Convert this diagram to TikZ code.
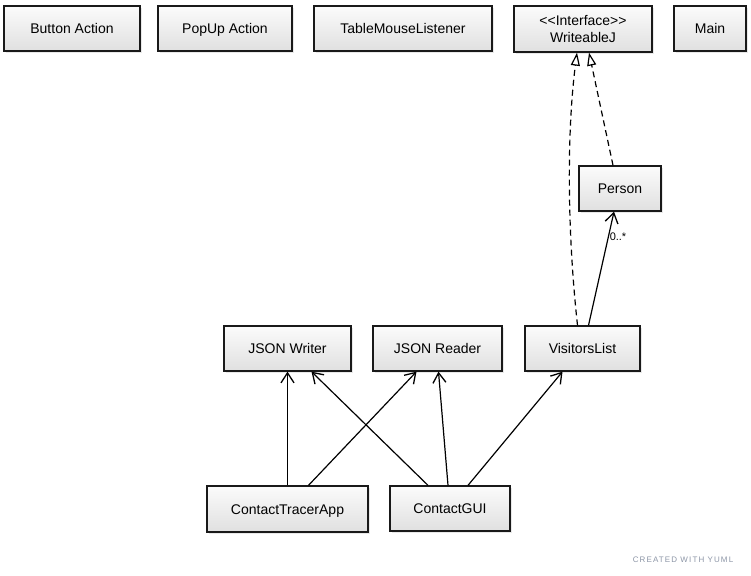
\documentclass[tikz,border=0pt]{standalone}
\usepackage{fontspec}
\setmainfont{Liberation Sans}
\newfontfamily\wmfont{Liberation Sans}[LetterSpace=14]
\usetikzlibrary{arrows.meta,calc,shadows}
\definecolor{boxtop}{HTML}{FBFBFB}
\definecolor{boxbot}{HTML}{E0E0E0}
\definecolor{wmgray}{HTML}{8C95A6}
\tikzset{
  cls/.style={draw=black!90, line width=1.3pt, rectangle, top color=boxtop, bottom color=boxbot,
    drop shadow={opacity=0.18, shadow xshift=2pt, shadow yshift=-2pt},
    font=\fontsize{14}{17}\selectfont, align=center, inner sep=0pt, minimum height=45pt},
  oneline/.style={text height=13pt, text depth=3pt},
  assoc/.style={line width=1.2pt, -{Straight Barb[length=10pt,width=13pt,line width=1.3pt]}},
  realize/.style={line width=1.2pt, dashed, dash pattern=on 6pt off 4pt, -{Triangle[open,length=13pt,width=9pt,line width=1.2pt]}},
  mult/.style={font=\fontsize{11}{12}\selectfont, inner sep=0pt}
}
\begin{document}
\begin{tikzpicture}[x=1pt,y=-1pt]
\useasboundingbox (0,0) rectangle (751,575);
% top row
\node[cls, oneline, minimum width=136pt] (btn) at (72,28.5) {Button Action};
\node[cls, oneline, minimum width=134pt] (pop) at (225,28.5) {PopUp Action};
\node[cls, oneline, minimum width=178pt] (tml) at (403,28.5) {TableMouseListener};
\node[cls, minimum width=138pt, minimum height=46pt] (wj) at (583,29) {<\kern0pt<Interface>\kern0pt>\\WriteableJ};
\node[cls, oneline, minimum width=72pt] (main) at (710,28.5) {Main};
% middle
\node[cls, oneline, minimum width=82pt] (person) at (620,188.5) {Person};
\node[cls, oneline, minimum width=127pt] (jw) at (287.5,348.5) {JSON Writer};
\node[cls, oneline, minimum width=129pt] (jr) at (437.5,348.5) {JSON Reader};
\node[cls, oneline, minimum width=115pt] (vl) at (582.5,348.5) {VisitorsList};
% bottom
\node[cls, oneline, minimum width=161pt, minimum height=46pt] (cta) at (287.5,509) {ContactTracerApp};
\node[cls, oneline, minimum width=120pt] (cgui) at (450,508.5) {ContactGUI};
% connectors
\draw[assoc] (cta.north) -- (jw.south);
\draw[assoc] ($(cta.north)+(21,0)$) -- ($(jr.south)+(-21,0)$);
\draw[assoc] ($(cgui.north)+(-22,0)$) -- ($(jw.south)+(24,0)$);
\draw[assoc] ($(cgui.north)+(-2,0)$) -- ($(jr.south)+(1,0)$);
\draw[assoc] ($(cgui.north)+(18,0)$) -- ($(vl.south)+(-20,0)$);
\draw[assoc] ($(vl.north)+(6,0)$) -- ($(person.south)+(-6,0)$);
\node[mult] (m1) at (618,237) {0..*};
\draw[realize] ($(person.north)+(-7,0)$) -- ($(wj.south)+(6,0)$);
\draw[realize] ($(vl.north)+(-5,0)$) .. controls (567,230) and (567,130) .. ($(wj.south)+(-6,0)$);
% watermark
\node[font=\wmfont\fontsize{8}{9}\selectfont, text=wmgray, inner sep=0pt] (wm) at (683,560) {CREATED WITH YUML};
\end{tikzpicture}
\end{document}
